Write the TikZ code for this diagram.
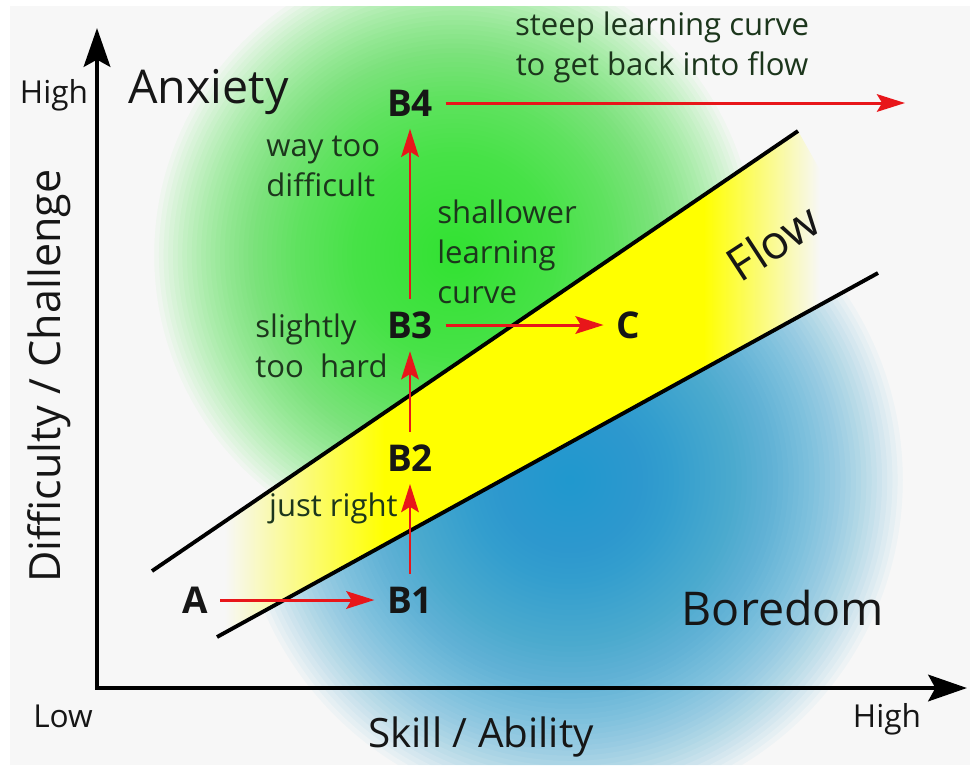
\documentclass[tikz,border=0pt]{standalone}
\usepackage{fontspec}
\setmainfont{Open Sans}
\usetikzlibrary{arrows.meta, positioning}

\definecolor{paper}{HTML}{F7F7F7}
\definecolor{anxietygreen}{HTML}{2EE22E}
\definecolor{boredomblue}{HTML}{1A98CE}
\definecolor{flowyellow}{HTML}{FFFF00}
\definecolor{moveRed}{HTML}{E8161A}
\definecolor{noteink}{HTML}{1C361C}
\definecolor{ink}{HTML}{161616}

% paper -> yellow -> paper along the flow channel
\pgfdeclarehorizontalshading{flowband}{100bp}{color(0bp)=(paper); color(30bp)=(paper); color(41bp)=(flowyellow); color(63bp)=(flowyellow); color(71bp)=(paper); color(100bp)=(paper)}

\begin{document}
\begin{tikzpicture}[
        x=0.02cm, y=-0.02cm,
        axis/.style={line width=2.8pt, draw=black, line cap=rect, -{Stealth[length=22pt, width=15pt, inset=4pt]}},
        boundary/.style={line width=2.2pt, draw=black},
        move/.style={line width=1.7pt, draw=moveRed, -{Stealth[length=16pt, width=10pt, inset=3pt]}},
        point/.style={font=\fontsize{21}{24}\selectfont\bfseries, text=ink, inner sep=7pt},
        note/.style={font=\fontsize{17.7}{22.7}\selectfont, text=noteink, align=left, inner sep=0pt},
        zone/.style={font=\fontsize{26.5}{30}\selectfont, text=ink, inner sep=0pt},
        title/.style={font=\fontsize{23}{28}\selectfont, text=ink, inner sep=0pt},
        scalelabel/.style={font=\fontsize{18}{20}\selectfont, text=ink, inner sep=0pt}
    ]
        \useasboundingbox (0,0) rectangle (970,765);
        \fill[white] (0,0) rectangle (970,765);
        \fill[paper] (10,6) rectangle (970,765);

        % Channel edges
        \coordinate (up1) at (152,571);
        \coordinate (up2) at (798,131);
        \coordinate (lo1) at (217,637);
        \coordinate (lo2) at (878,273);

        % Zones (stacked soft discs)
        \begin{scope}
            \clip (10,6) rectangle (970,765);
            \begin{scope}
                \clip (10,6) -- (970,6) -- (970,14) -- (10,668) -- cycle;
                \foreach \k in {1,...,64}
                    \fill[anxietygreen, fill opacity=0.04] (455,255) circle (0.094cm*\k);
            \end{scope}
            \begin{scope}
                \clip (10,750) -- (970,222) -- (970,765) -- (10,765) -- cycle;
                \foreach \k in {1,...,64}
                    \fill[boredomblue, fill opacity=0.04] (570,480) circle (0.104cm*\k);
            \end{scope}
        \end{scope}

        \shade[shading=flowband] (up1) -- (up2) -- (lo2) -- (lo1) -- cycle;
        \draw[boundary] (up1) -- (up2);
        \draw[boundary] (lo1) -- (lo2);

        % Axes
        \coordinate (origin) at (97,688);
        \coordinate (ytop) at (97,28);
        \coordinate (xend) at (967,688);
        \draw[axis] (origin) -- (ytop);
        \draw[axis] (origin) -- (xend);

        \node[scalelabel, anchor=base] (yhigh) at (54,103) {High};
        \node[scalelabel, anchor=base] (ylow) at (63,727) {Low};
        \node[scalelabel, anchor=base] (xhigh) at (887,727) {High};
        \node[title, font=\fontsize{24.5}{28}\selectfont, anchor=base, rotate=90] (ytitle) at (60,376) {Difficulty / Challenge};
        \node[title, anchor=base] (xtitle) at (481,747) {Skill / Ability};

        \node[zone, anchor=base west] (anxiety) at (128,103) {Anxiety};
        \node[zone, anchor=base] (boredom) at (783,625) {Boredom};
        \node[zone, rotate=33] (flow) at (773,242) {Flow};

        % Path through the chart
        \node[point] (A) at (195,600) {A};
        \node[point] (B1) at (410,600) {B1};
        \node[point] (B2) at (410,458) {B2};
        \node[point] (B3) at (410,325) {B3};
        \node[point] (B4) at (410,103) {B4};
        \node[point] (C) at (628,325) {C};
        \coordinate (beyond) at (905,103);

        \draw[move] (A) -- (B1);
        \draw[move] (B1) -- (B2);
        \draw[move] (B2) -- (B3);
        \draw[move] (B3) -- (B4);
        \draw[move] (B3) -- (C);
        \draw[move] (B4) -- (beyond);

        % Notes
        \node[note, anchor=west] (waytoo) at (266,166) {way too\\difficult};
        \node[note, anchor=west] (shallower) at (437,252) {shallower\\learning\\curve};
        \node[note, anchor=west] (slightly) at (255,346) {slightly\\too\ \ hard};
        \node[note, anchor=east] (justright) at (398,508) {just right};
        \node[note, align=center] (steep) at (662,47) {steep learning curve\\to get back into flow};

    \end{tikzpicture}
\end{document}
